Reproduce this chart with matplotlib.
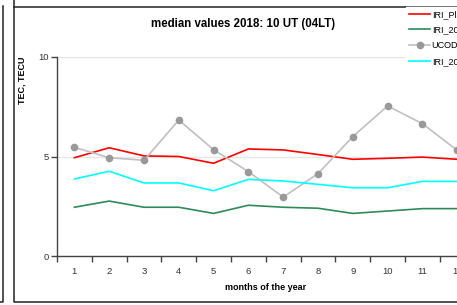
import numpy as np
import matplotlib
matplotlib.use('Agg')
import matplotlib.pyplot as plt
from matplotlib.lines import Line2D

plt.rcParams['font.family'] = ['Liberation Sans', 'DejaVu Sans']

# data
months = np.arange(1, 13)
month_labels = [str(m) for m in months]
iri_plas = [4.94, 5.44, 5.03, 5.00, 4.66, 5.38, 5.33, 5.10, 4.86, 4.91, 4.97, 4.86]
iri_2012 = [2.45, 2.76, 2.45, 2.45, 2.14, 2.55, 2.45, 2.40, 2.14, 2.26, 2.38, 2.38]
ucode    = [5.46, 4.94, 4.81, 6.83, 5.34, 4.24, 2.96, 4.14, 6.00, 7.54, 6.65, 5.31]
iri_2016 = [3.87, 4.26, 3.67, 3.67, 3.28, 3.85, 3.77, 3.60, 3.43, 3.43, 3.75, 3.75]

W, H = 457, 305
fig = plt.figure(figsize=(W/100, H/100), dpi=100, facecolor='white')

# axes runs off the right edge of the picture like in the reference
ax = fig.add_axes([57/W, 49/H, 417.6/W, 199/H])
ax.set_facecolor('white')

ax.plot(months, iri_plas, color='#ff0000', lw=1.2, label='IRI_Plas', zorder=3)
ax.plot(months, iri_2012, color='#2e8b57', lw=1.2, label='IRI_2012', zorder=3)
ax.plot(months, ucode, color='#c0c0c0', lw=1.2, marker='o', ms=4.5,
        mfc='#999999', mec='#999999', label='UCODE', zorder=3)
ax.plot(months, iri_2016, color='#00ffff', lw=1.2, label='IRI_2016', zorder=3)

ax.set_xlim(0.5, 12.5)
ax.set_ylim(0, 10)
ax.set_yticks([0, 5, 10])
ax.set_xticks(months)
ax.set_xticklabels(month_labels)
ax.set_xticks(np.arange(0.5, 13, 1), minor=True)
ax.tick_params(axis='x', which='major', length=0, pad=8, labelsize=6.8, colors='#333')
ax.tick_params(axis='x', which='minor', length=4, width=1, color='#444')
ax.tick_params(axis='y', length=4, width=1, color='#444', pad=2, labelsize=6.8, labelcolor='#333')
ax.grid(axis='y', color='#e6e6e6', lw=1, zorder=0)
for s in ['top', 'right']:
    ax.spines[s].set_visible(False)
for s in ['left', 'bottom']:
    ax.spines[s].set_color('#444')
    ax.spines[s].set_linewidth(1)

ax.set_xlabel('months of the year', fontsize=6.5, fontweight='bold', labelpad=5)
fig.text(21.5/W, 1-80/H, 'TEC, TECU', rotation=90, fontsize=6.5,
         fontweight='bold', ha='center', va='center')
fig.text(243/W, 1-24/H, 'median values 2018: 10 UT (04LT)', fontsize=8.3,
         fontweight='bold', ha='center', va='center')

leg = fig.legend(loc='upper left', bbox_to_anchor=(406/W, 1-7/H), fontsize=6.5,
                 frameon=True, fancybox=False, edgecolor='white', facecolor='white',
                 framealpha=1, handlelength=2.4, handletextpad=0.15,
                 labelspacing=0.75, borderpad=0.3, borderaxespad=0)

# panel frames
fig.add_artist(Line2D([14/W, 14/W, 1.01], [1.02, 1-301.5/H, 1-301.5/H],
                      transform=fig.transFigure, color='#222', lw=1.1))
fig.add_artist(Line2D([14/W, 1.01], [1-7/H, 1-7/H],
                      transform=fig.transFigure, color='#222', lw=1.1))
fig.add_artist(Line2D([-0.01, 2.7/W, 2.7/W], [1-301.5/H, 1-301.5/H, 1-6/H],
                      transform=fig.transFigure, color='#222', lw=1.1))

fig.savefig('out.png', dpi=100, facecolor='white')
